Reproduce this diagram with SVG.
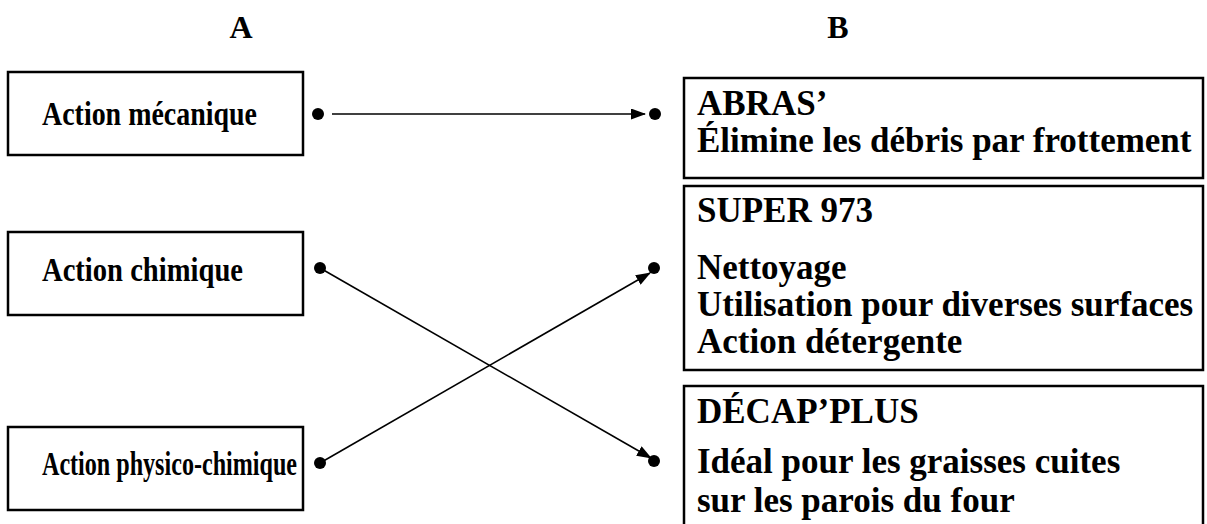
<svg xmlns="http://www.w3.org/2000/svg" width="1207" height="524" viewBox="0 0 1207 524">
<style>
text{font-family:"Liberation Serif","Times New Roman",serif;font-weight:bold;fill:#000}
.l{font-size:33px}
.r{font-size:35px}
.h{font-size:32px}
.box{fill:#fff;stroke:#000;stroke-width:2.5}
.ln{stroke:#000;stroke-width:1.6;fill:none}
.dot{fill:#000}
</style>
<defs>
<marker id="ah" markerWidth="15" markerHeight="11" refX="14" refY="5.5" orient="auto" markerUnits="userSpaceOnUse" viewBox="0 0 15 11"><path d="M0,0 L15,5.5 L0,11 Z" fill="#000"/></marker>
</defs>
<rect width="1207" height="524" fill="#fff"/>
<text class="h" x="241" y="38" text-anchor="middle">A</text>
<text class="h" x="838" y="38" text-anchor="middle">B</text>
<g id="a1"><rect class="box" x="8" y="72" width="295" height="83"/><text class="l" x="42" y="125" textLength="215" lengthAdjust="spacingAndGlyphs">Action mécanique</text></g>
<g id="a2"><rect class="box" x="8" y="232" width="295" height="83"/><text class="l" x="42" y="281" textLength="201" lengthAdjust="spacingAndGlyphs">Action chimique</text></g>
<g id="a3"><rect class="box" x="8" y="427" width="295" height="83"/><text class="l" x="42" y="475" textLength="255" lengthAdjust="spacingAndGlyphs">Action physico-chimique</text></g>
<g id="b1"><rect class="box" x="684" y="78" width="519" height="100"/><text class="r" x="697" y="115">ABRAS’</text><text class="r" x="697" y="152">Élimine les débris par frottement</text></g>
<g id="b2"><rect class="box" x="684" y="186" width="519" height="184"/><text class="r" x="697" y="222">SUPER 973</text><text class="r" x="697" y="279">Nettoyage</text><text class="r" x="697" y="316">Utilisation pour diverses surfaces</text><text class="r" x="697" y="353">Action détergente</text></g>
<g id="b3"><rect class="box" x="684" y="386" width="519" height="150"/><text class="r" x="697" y="423">DÉCAP’PLUS</text><text class="r" x="697" y="473">Idéal pour les graisses cuites</text><text class="r" x="697" y="512">sur les parois du four</text></g>
<g id="connectors">
<circle class="dot" cx="318" cy="114" r="6"/><circle class="dot" cx="655" cy="114" r="6"/>
<circle class="dot" cx="320" cy="268" r="6"/><circle class="dot" cx="654" cy="268" r="6"/>
<circle class="dot" cx="320" cy="463" r="6"/><circle class="dot" cx="654" cy="461" r="6"/>
<line class="ln" x1="332" y1="114" x2="645" y2="114" marker-end="url(#ah)"/>
<line class="ln" x1="320" y1="268" x2="651" y2="458" marker-end="url(#ah)"/>
<line class="ln" x1="320" y1="463" x2="650" y2="273" marker-end="url(#ah)"/>
</g>
</svg>
